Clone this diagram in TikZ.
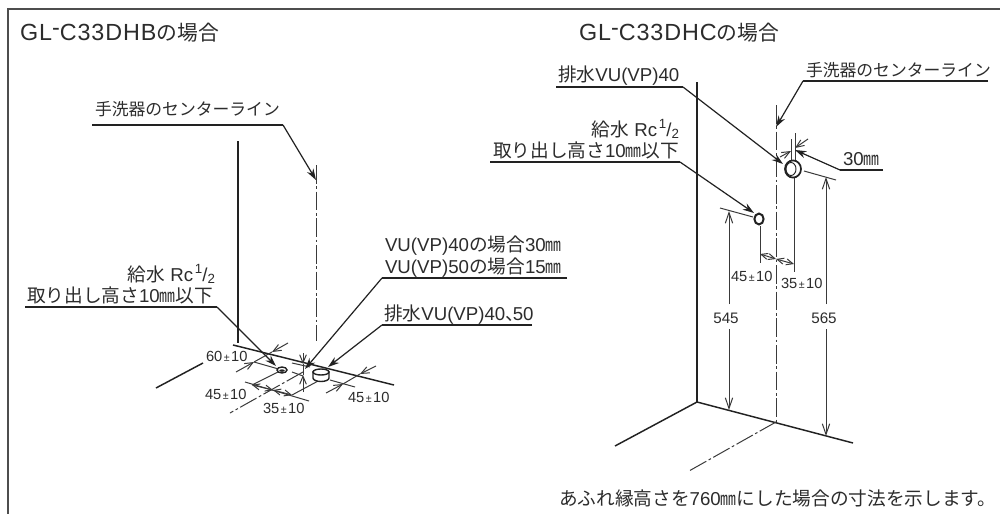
\documentclass[tikz,border=0pt]{standalone}
\usepackage{fontspec}
\setmainfont{Liberation Sans}
\newfontfamily\cjk{Noto Sans CJK JP}
\newfontfamily\titlelat[LetterSpace=4]{Liberation Sans}
\usetikzlibrary{arrows.meta}
\definecolor{ink}{HTML}{222222}
\definecolor{txt}{HTML}{2C2C2C}
\definecolor{dimc}{HTML}{3A3A3A}
\newcommand\J[1]{{\cjk #1}}
\newcommand\mmu{{\cjk\scalebox{.85}[1]{㎜}}}
\newcommand\half{\kern.1em\raisebox{.42em}{\fontsize{10pt}{10pt}\selectfont 1}/\raisebox{-.12em}{\fontsize{10pt}{10pt}\selectfont 2}}
\newcommand\pmt{\kern.1em{\fontsize{8pt}{8pt}\selectfont ±}\kern.1em}
\tikzset{
 x=0.75pt,y=-0.75pt,
 lab/.style={inner sep=0pt,outer sep=0pt,text=txt,font=\fontsize{14pt}{16pt}\selectfont},
 clab/.style={lab,font=\fontsize{12.6pt}{14pt}\selectfont},
 numlab/.style={lab,font=\fontsize{11.4pt}{13pt}\selectfont},
 titlelab/.style={lab,font=\fontsize{15.6pt}{18pt}\selectfont},
 dimlab/.style={lab,font=\fontsize{11pt}{12pt}\selectfont},
 frameline/.style={draw=ink!80,line width=0.9pt},
 wall/.style={draw=ink,line width=1.1pt},
 leader/.style={draw=ink,line width=0.9pt},
 leadarrow/.style={leader,-{Stealth[length=8.5pt,width=5.5pt]}},
 thinline/.style={draw=dimc,line width=0.75pt},
 dimarrow/.style={thinline,{Straight Barb[length=5pt,width=4.5pt]}-{Straight Barb[length=5pt,width=4.5pt]}},
 onearrow/.style={thinline,-{Straight Barb[length=6pt,width=5pt]}},
 tallarrow/.style={thinline,-{Straight Barb[length=8pt,width=5.5pt]}},
 centre/.style={draw=dimc,line width=0.75pt,dash pattern=on 14pt off 2pt on 2pt off 2pt},
 pipe/.style={draw=ink,line width=1.05pt,fill=white},
}
\begin{document}
\begin{tikzpicture}
\useasboundingbox (0,0) rectangle (1000,514);
\fill[white] (0,0) rectangle (1000,514);
% frame
\coordinate (fa) at (8,514); \coordinate (fb) at (8,9); \coordinate (fc) at (1000,9);
\draw[frameline] (fa) -- (fb) -- (fc);
% titles
\node[titlelab,anchor=base west] (t1) at (20,40) {{\fontsize{17.5pt}{18pt}\titlelat GL\raisebox{.2em}{-}C33DHB}\J{の場合}};
\node[titlelab,anchor=base west] (t2) at (579,40) {{\fontsize{17.5pt}{18pt}\titlelat GL\raisebox{.2em}{-}C33DHC}\J{の場合}};

%% ---------- left figure ----------
\coordinate (Lw0) at (238,141); \coordinate (Lc) at (238,343);
\coordinate (Lb0) at (233,345); \coordinate (Lb1) at (394,385);
\coordinate (Lf0) at (203,363); \coordinate (Lf1) at (156,388);
\draw[wall] (Lw0) -- (Lc);
\draw[wall] (Lb0) -- (Lb1);
\draw[wall] (Lf0) -- (Lf1);
\coordinate (Lct) at (316,165); \coordinate (Lcb) at (316,341);
\draw[centre] (Lct) -- (Lcb);
\coordinate (Lcf0) at (303,372); \coordinate (Lcf1) at (230,413);
\draw[centre] (Lcf0) -- (Lcf1);

% left thin dimension work
\coordinate (d1a) at (288,343); \coordinate (d1m) at (272,352); \coordinate (d1b) at (254,362); \coordinate (d1c) at (236,372);
\draw[onearrow] (d1a) -- (d1m);
\draw[onearrow] (d1c) -- (d1b);
\draw[thinline] (d1m) -- (d1b);
\coordinate (d2a) at (254,362); \coordinate (d2b) at (282,370);
\draw[thinline] (d2a) -- (d2b);
\coordinate (d3a) at (282,370); \coordinate (d3b) at (252,385);
\draw[thinline] (d3a) -- (d3b);
\coordinate (d4a) at (245,382); \coordinate (d4b) at (309,401);
\coordinate (d4p) at (252,385); \coordinate (d4q) at (273,390); \coordinate (d4r) at (292,395);
\draw[thinline] (d4a) -- (d4b);
\draw[dimarrow] (d4p) -- (d4q);
\draw[dimarrow] (d4q) -- (d4r);
\coordinate (d5a) at (292,395); \coordinate (d5b) at (320,380);
\draw[thinline] (d5a) -- (d5b);
\coordinate (d6a) at (326,393); \coordinate (d6b) at (343,384); \coordinate (d6c) at (360,374); \coordinate (d6d) at (376,366);
\draw[onearrow] (d6a) -- (d6b);
\draw[onearrow] (d6d) -- (d6c);
\draw[thinline] (d6b) -- (d6c);
\coordinate (d7a) at (330,380); \coordinate (d7b) at (355,387);
\draw[thinline] (d7a) -- (d7b);
\coordinate (d8a) at (303,353); \coordinate (d8b) at (303,364); \coordinate (d8c) at (303,375); \coordinate (d8d) at (303,392);
\draw[onearrow] (d8a) -- (d8b);
\draw[onearrow] (d8d) -- (d8c);
\draw[thinline] (d8b) -- (d8c);
\coordinate (d9a) at (292,363); \coordinate (d9b) at (310,367);
\draw[thinline] (d9a) -- (d9b);
\coordinate (d10a) at (292,372); \coordinate (d10b) at (303,376);
\draw[thinline] (d10a) -- (d10b);

% left pipes
\draw[pipe] (282,370) ellipse (5 and 3);
\fill[ink] (282,370.6) ellipse (2.8 and 1.2);
\draw[pipe] (313,372) -- (313,378) arc[start angle=180,end angle=0,x radius=8,y radius=3.5] -- (329,372) -- cycle;
\draw[pipe] (321,372) ellipse (8 and 3);

% left labels and leaders
\node[clab,anchor=base west] (Lcl) at (95,115) {\J{手洗器のセンターライン}};
\coordinate (Lcl0) at (92,125); \coordinate (Lcl1) at (283,125); \coordinate (Lclt) at (316,180);
\draw[leader] (Lcl0) -- (Lcl1);
\draw[leadarrow] (Lcl1) -- (Lclt);

\node[lab,anchor=base east] (Lkk) at (215,281) {\J{給水} Rc\half};
\node[lab,anchor=base east] (Ltd) at (213,302) {\J{取り出し高さ}10\mmu\J{以下}};
\coordinate (Ltd0) at (25,307); \coordinate (Ltd1) at (217,307); \coordinate (Ltdt) at (276,366);
\draw[leader] (Ltd0) -- (Ltd1);
\draw[leadarrow] (Ltd1) -- (Ltdt);

\node[lab,anchor=base west] (Lv4) at (385,251) {VU(VP)40\J{の場合}30\mmu};
\node[lab,anchor=base west] (Lv5) at (385,273) {VU(VP)50\J{の場合}15\mmu};
\coordinate (Lv0) at (567,278); \coordinate (Lv1) at (382,278); \coordinate (Lvt) at (305,369);
\draw[leader] (Lv0) -- (Lv1);
\draw[leadarrow] (Lv1) -- (Lvt);

\node[lab,anchor=base west] (Ldr) at (384,320) {\J{排水}VU(VP)40{\cjk\makebox[.4em][l]{、}}50};
\coordinate (Ldr0) at (532,325); \coordinate (Ldr1) at (382,325); \coordinate (Ldrt) at (328,367);
\draw[leader] (Ldr0) -- (Ldr1);
\draw[leadarrow] (Ldr1) -- (Ldrt);

\node[dimlab,anchor=base west] (n60) at (206,361) {60\pmt10};
\node[dimlab,anchor=base west] (n45a) at (205,399) {45\pmt10};
\node[dimlab,anchor=base west] (n35a) at (263,413) {35\pmt10};
\node[dimlab,anchor=base west] (n45b) at (348,402) {45\pmt10};

%% ---------- right figure ----------
\coordinate (Rw0) at (697,82); \coordinate (Rc) at (697,402);
\coordinate (Rb1) at (853,443); \coordinate (Rf1) at (615,446);
\draw[wall] (Rw0) -- (Rc);
\draw[wall] (Rb1) -- (Rc) -- (Rf1);
\coordinate (Rct) at (776,105); \coordinate (Rcb) at (776,422); \coordinate (Rcf) at (689,471);
\draw[centre] (Rct) -- (Rcb);
\draw[centre] (Rcb) -- (Rcf);

% right dimensions
\node[numlab,anchor=base] (n545) at (726,323) {545};
\node[numlab,anchor=base] (n565) at (824,323) {565};
\coordinate (h1t) at (729,211); \coordinate (h1b) at (729,410); \coordinate (h1g) at (729,304); \coordinate (h1h) at (729,329);
\coordinate (h2t) at (826,177); \coordinate (h2b) at (826,436); \coordinate (h2g) at (826,304); \coordinate (h2h) at (826,329);
\draw[tallarrow] (h1g) -- (h1t);
\draw[tallarrow] (h1h) -- (h1b);
\draw[tallarrow] (h2g) -- (h2t);
\draw[tallarrow] (h2h) -- (h2b);
\coordinate (e1a) at (720,208); \coordinate (e1b) at (753,217);
\coordinate (e2a) at (804,171); \coordinate (e2b) at (836,180);
\draw[thinline] (e1a) -- (e1b);
\draw[thinline] (e2a) -- (e2b);
\coordinate (v1a) at (760,226); \coordinate (v1b) at (760,263);
\coordinate (v2a) at (794,178); \coordinate (v2b) at (794,272);
\draw[thinline] (v1a) -- (v1b);
\draw[thinline] (v2a) -- (v2b);
\coordinate (hd0) at (760,254); \coordinate (hd1) at (776,259); \coordinate (hd2) at (794,264);
\draw[dimarrow] (hd0) -- (hd1);
\draw[dimarrow] (hd1) -- (hd2);
\node[dimlab,anchor=base west] (n45c) at (731,281) {45\pmt10};
\node[dimlab,anchor=base west] (n35c) at (781,288) {35\pmt10};
% 30 mm
\coordinate (s1a) at (791,139); \coordinate (s1b) at (791,168);
\coordinate (s2a) at (795,133); \coordinate (s2b) at (795,160);
\draw[thinline] (s1a) -- (s1b);
\draw[thinline] (s2a) -- (s2b);
\coordinate (s3a) at (780,157); \coordinate (s3b) at (791,151); \coordinate (s3c) at (795,148); \coordinate (s3d) at (808,139);
\draw[onearrow] (s3a) -- (s3b);
\draw[onearrow] (s3d) -- (s3c);

% right pipes
\draw[draw=ink,line width=1.5pt,fill=white] (759,219) ellipse (4.6 and 5.4);
\draw[draw=ink,line width=1.3pt,fill=white] (793,169) ellipse (8 and 8.6);
\draw[draw=ink,line width=0.7pt] (791,169) ellipse (5 and 6.5);

% right labels and leaders
\node[lab,anchor=base west] (Rdr) at (558,81) {\J{排水}VU(VP)40};
\coordinate (Rdr0) at (556,87); \coordinate (Rdr1) at (683,87); \coordinate (Rdrt) at (783,164);
\draw[leader] (Rdr0) -- (Rdr1);
\draw[leadarrow] (Rdr1) -- (Rdrt);

\node[clab,anchor=base west] (Rcl) at (806,76) {\J{手洗器のセンターライン}};
\coordinate (Rcl0) at (988,81); \coordinate (Rcl1) at (803,81); \coordinate (Rclt) at (776,127);
\draw[leader] (Rcl0) -- (Rcl1);
\draw[leadarrow] (Rcl1) -- (Rclt);

\node[lab,anchor=base east] (Rkk) at (679,136) {\J{給水} Rc\half};
\node[lab,anchor=base east] (Rtd) at (679,157) {\J{取り出し高さ}10\mmu\J{以下}};
\coordinate (Rtd0) at (490,162); \coordinate (Rtd1) at (680,162); \coordinate (Rtdt) at (754,213);
\draw[leader] (Rtd0) -- (Rtd1);
\draw[leadarrow] (Rtd1) -- (Rtdt);

\node[lab,anchor=base west] (R30) at (843,165) {30\mmu};
\coordinate (R300) at (883,170); \coordinate (R301) at (840,170); \coordinate (R30t) at (795,150);
\draw[leader] (R300) -- (R301);
\draw[leadarrow] (R301) -- (R30t);

\node[lab,anchor=base west] (note) at (559,505) {\J{あふれ縁高さを}760\mmu\J{にした場合の寸法を示します。}};
\end{tikzpicture}
\end{document}
